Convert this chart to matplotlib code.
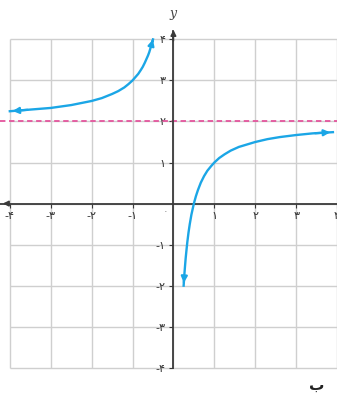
import matplotlib
matplotlib.use("Agg")
import matplotlib.pyplot as plt
from matplotlib.ticker import FuncFormatter

# 1. Data
left_x = [-4, -3.5, -3, -2.5, -2, -1.75, -1.5, -1.35, -1.2, -1.1, -1, -0.93, -0.86, -0.8,
          -0.75, -0.7, -0.66, -0.62, -0.59, -0.56, -0.53, -0.5]
left_y = [2.25, 2.29, 2.33, 2.4, 2.5, 2.57, 2.67, 2.74, 2.83, 2.91, 3.0, 3.08, 3.16, 3.25,
          3.33, 3.43, 3.52, 3.61, 3.69, 3.79, 3.89, 4.0]
right_x = [0.25, 0.26, 0.27, 0.285, 0.3, 0.32, 0.34, 0.37, 0.4, 0.44, 0.5, 0.55, 0.6, 0.67,
           0.75, 0.83, 0.92, 1, 1.12, 1.25, 1.4, 1.6, 1.8, 2, 2.3, 2.6, 3, 3.4, 3.9]
right_y = [-2.0, -1.85, -1.7, -1.51, -1.33, -1.13, -0.94, -0.7, -0.5, -0.27, 0.0, 0.18, 0.33,
           0.51, 0.67, 0.8, 0.91, 1.0, 1.11, 1.2, 1.29, 1.38, 1.44, 1.5, 1.57, 1.62, 1.67,
           1.71, 1.74]
asymptote_y = 2
x_ticks = [-4, -3, -2, -1, 1, 2, 3, 4]
y_ticks = [-4, -3, -2, -1, 1, 2, 3, 4]
grid_vals = [-4, -3, -2, -1, 0, 1, 2, 3, 4]

fa_digits = "۰۱۲۳۴۵۶۷۸۹"

def to_fa(v, pos=None):
    v = int(round(v))
    s = "".join(fa_digits[int(c)] for c in str(abs(v)))
    return "-" + s if v < 0 else s

curve_col = "#1ba6e6"
grid_col = "#cfcfcf"
axis_col = "#3a3a3a"

# 2. Make a plot
fig = plt.figure(figsize=(3.37, 4.01), dpi=100)
ax = fig.add_axes([0, 0, 1, 1])
ax.set_xlim(-4.24, 3.98)
ax.set_ylim(-4.81, 4.96)

# grid only inside the square -4..4
ax.vlines(grid_vals, -4, 4, color=grid_col, lw=1.0, zorder=1)
ax.hlines(grid_vals, -4, 4, color=grid_col, lw=1.0, zorder=1)

# axes through the origin
for s in ["top", "right"]:
    ax.spines[s].set_visible(False)
ax.spines["left"].set_position("zero")
ax.spines["bottom"].set_position("zero")
ax.spines["left"].set_bounds(-4, 4.2)
ax.spines["left"].set_color(axis_col)
ax.spines["bottom"].set_color(axis_col)
ax.spines["left"].set_linewidth(1.3)
ax.spines["bottom"].set_linewidth(1.3)
ax.annotate("", xy=(0, 4.3), xytext=(0, 3.9),
            arrowprops=dict(arrowstyle="-|>", color=axis_col, lw=1.2, mutation_scale=8))
ax.annotate("", xy=(-4.24, 0), xytext=(-4.0, 0),
            arrowprops=dict(arrowstyle="-|>", color=axis_col, lw=1.2, mutation_scale=8))

ax.set_xticks(x_ticks)
ax.set_yticks(y_ticks)
ax.xaxis.set_major_formatter(FuncFormatter(to_fa))
ax.yaxis.set_major_formatter(FuncFormatter(to_fa))
ax.tick_params(direction="out", length=3, width=0.8, color=axis_col,
               labelsize=8, labelcolor="#333333", pad=2)
ax.tick_params(axis="y", pad=3)
for lab in ax.get_xticklabels() + ax.get_yticklabels():
    lab.set_clip_on(False)

ax.text(-0.14, -0.12, to_fa(0), fontsize=5, color="#555555", ha="right", va="top")
ax.text(0.0, 4.62, "y", fontsize=9, style="italic", family="DejaVu Serif",
        color="#444444", ha="center", va="center")

# horizontal asymptote
ax.axhline(asymptote_y, color="#e4559d", lw=1.3, ls=(0, (3, 2)), zorder=2)

# the two branches with arrow heads
arrow = dict(arrowstyle="-|>", color=curve_col, lw=1.6, mutation_scale=9)
ax.plot(left_x, left_y, color=curve_col, lw=1.7, zorder=3, solid_joinstyle="round")
ax.plot(right_x, right_y, color=curve_col, lw=1.7, zorder=3, solid_joinstyle="round")
ax.annotate("", xy=(left_x[0], left_y[0]), xytext=(left_x[1], left_y[1]), arrowprops=arrow)
ax.annotate("", xy=(left_x[-1], left_y[-1]), xytext=(left_x[-2], left_y[-2]), arrowprops=arrow)
ax.annotate("", xy=(right_x[0], right_y[0]), xytext=(right_x[1], right_y[1]), arrowprops=arrow)
ax.annotate("", xy=(right_x[-1], right_y[-1]), xytext=(right_x[-2], right_y[-2]), arrowprops=arrow)

fig.text(317 / 337, 1 - 385 / 401, "ب", fontsize=11, fontweight="bold",
         color="#222222", ha="center", va="center")

# 3. Save plot
fig.savefig("out.png", dpi=100)
